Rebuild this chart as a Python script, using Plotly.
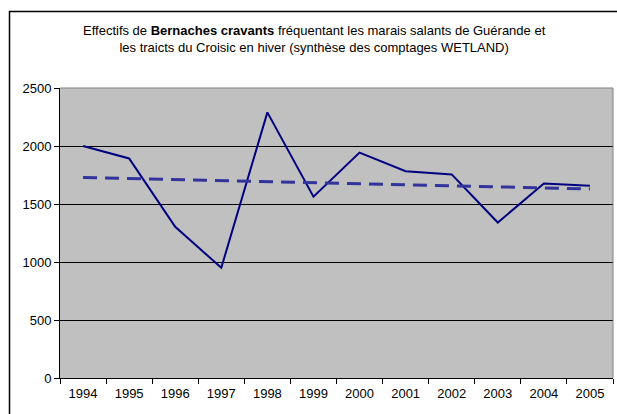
import numpy as np
import plotly.graph_objects as go

# Winter counts of Brent geese (WETLAND counts)
years = ["1994", "1995", "1996", "1997", "1998", "1999",
         "2000", "2001", "2002", "2003", "2004", "2005"]
counts = [2000, 1893, 1303, 950, 2290, 1563, 1943, 1782, 1755, 1340, 1676, 1658]
y_ticks = [0, 500, 1000, 1500, 2000, 2500]

# Linear trend line fitted to the counts
idx = np.arange(len(counts))
slope, intercept = np.polyfit(idx, counts, 1)
trend = slope * idx + intercept

W, H = 617, 414
L, R, T, B = 60, 4, 88, 36
pw, ph = W - L - R, H - T - B

def px_x(x):
    return (x - L) / pw

def px_y(y):
    return (H - B - y) / ph

font = "Liberation Sans, Arial, sans-serif"

fig = go.Figure()
fig.add_trace(go.Scatter(
    x=years, y=counts, mode="lines",
    line=dict(color="#000080", width=2),
    showlegend=False, hoverinfo="skip",
))
fig.add_trace(go.Scatter(
    x=years, y=trend, mode="lines",
    line=dict(color="#33339c", width=3, dash="14px,8px"),
    showlegend=False, hoverinfo="skip",
))

fig.update_layout(
    width=W, height=H,
    margin=dict(l=L, r=R, t=T, b=B, pad=0),
    paper_bgcolor="white",
    plot_bgcolor="#c0c0c0",
    font=dict(family=font, size=13, color="black"),
    xaxis=dict(
        type="category", tickson="boundaries", ticks="outside",
        ticklen=5, tickcolor="black", showline=True, linecolor="black",
        linewidth=1, showgrid=False, tickfont=dict(size=13),
        ticklabelstandoff=3,
        range=[-0.5, len(years) - 0.5], fixedrange=True,
    ),
    yaxis=dict(
        range=[0, 2500], tickvals=y_ticks, ticks="outside", ticklen=5,
        tickcolor="black", showline=True, linecolor="black", linewidth=1,
        gridcolor="black", gridwidth=1, zeroline=False,
        tickfont=dict(size=13), fixedrange=True,
    ),
    annotations=[dict(
        text="Effectifs de <b>Bernaches cravants</b> fréquentant les marais salants de Guérande et"
             "<br>les traicts du Croisic en hiver (synthèse des comptages WETLAND)",
        xref="paper", yref="paper", x=px_x(314), y=px_y(39),
        xanchor="center", yanchor="middle", showarrow=False,
        font=dict(family=font, size=13, color="black"),
    )],
    shapes=[
        # plot area frame, top and right edges
        dict(type="line", xref="paper", yref="paper", x0=0, x1=1, y0=1, y1=1,
             line=dict(color="#808080", width=1), layer="above"),
        dict(type="line", xref="paper", yref="paper", x0=1, x1=1, y0=0, y1=1,
             line=dict(color="#808080", width=1), layer="above"),
        # chart border
        dict(type="rect", xref="paper", yref="paper",
             x0=px_x(9.5), x1=px_x(625), y0=px_y(425), y1=px_y(11.5),
             line=dict(color="black", width=1.5), layer="above"),
    ],
)

fig.write_html("out.html")
